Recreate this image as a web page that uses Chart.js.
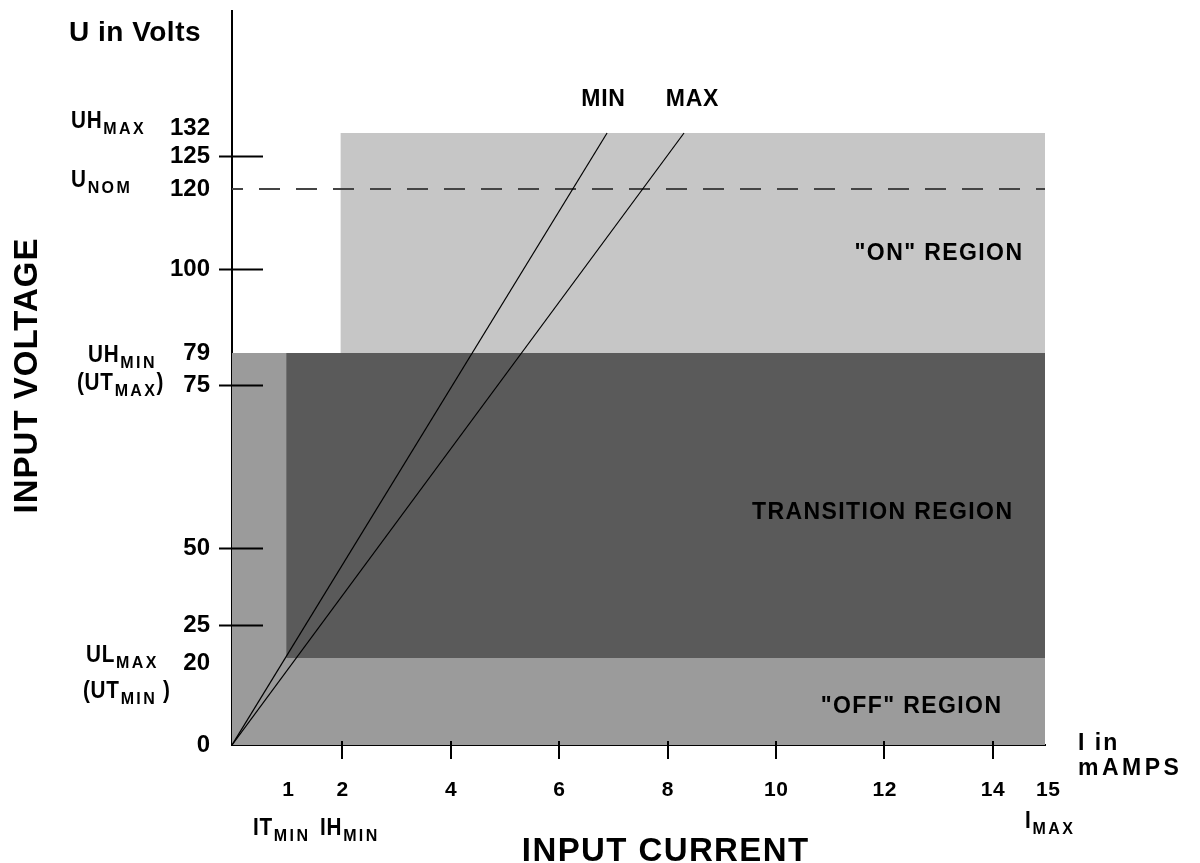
<!DOCTYPE html>
<html>
<head>
<meta charset="utf-8">
<script src="https://cdn.jsdelivr.net/npm/chart.js@4.4.1/dist/chart.umd.min.js"></script>
<style>
  html, body { margin: 0; padding: 0; background: #fff; }
  #wrap { width: 1200px; height: 863px; }
</style>
</head>
<body>
<div id="wrap"><canvas id="chart" width="1200" height="863"></canvas></div>
<script>
// values
const currentLabels = [1, 2, 4, 6, 8, 10, 12, 14, 15];      // mA
const currentMarks = [2, 4, 6, 8, 10, 12, 14];
const voltageLabels = [0, 20, 25, 50, 75, 79, 100, 120, 125, 132]; // V
const voltageMarks = [25, 50, 75, 100, 125];

const regionNames = ['"OFF" REGION', 'TRANSITION REGION', '"ON" REGION'];
const regionFrom = [0, 1, 2];
const regionTo = [15, 15, 15];
const regionLow = [0, 20, 79];
const regionHigh = [79, 79, 132];

const uNom = 120;
const minLine = [[0, 0], [6.92, 132]];
const maxLine = [[0, 0], [8.34, 132]];

const FONT = '"Liberation Sans", Arial, Helvetica, sans-serif';

// the voltage axis of the original sketch is not evenly spaced,
// so map values piecewise onto the axis length
class WarpScale extends Chart.LinearScale {
  static id = 'warp';
  static defaults = { ticks: { callback: v => v } };

  _frac(value) {
    const vals = this.options.warp.values, at = this.options.warp.at;
    if (value <= vals[0]) return at[0];
    for (let i = 1; i < vals.length; i++) {
      if (value <= vals[i]) {
        const t = (value - vals[i - 1]) / (vals[i] - vals[i - 1]);
        return at[i - 1] + t * (at[i] - at[i - 1]);
      }
    }
    return at[at.length - 1];
  }
  getPixelForValue(value) {
    return this.getPixelForDecimal(this._frac(value));
  }
  getValueForPixel(pixel) {
    const d = this.getDecimalForPixel(pixel);
    const vals = this.options.warp.values, at = this.options.warp.at;
    for (let i = 1; i < at.length; i++) {
      if (d <= at[i]) {
        const t = (d - at[i - 1]) / (at[i] - at[i - 1]);
        return vals[i - 1] + t * (vals[i] - vals[i - 1]);
      }
    }
    return vals[vals.length - 1];
  }
}
Chart.register(WarpScale);

const regionColors = ['#9b9b9b', '#5a5a5a', '#c6c6c6'];

const datasets = [];
datasets.push({
  data: minLine.map(p => ({ x: p[0], y: p[1] })),
  borderColor: '#000', borderWidth: 1.2, pointRadius: 0, fill: false, order: 0
});
datasets.push({
  data: maxLine.map(p => ({ x: p[0], y: p[1] })),
  borderColor: '#000', borderWidth: 1.2, pointRadius: 0, fill: false, order: 1
});
datasets.push({
  data: [{ x: 0, y: uNom }, { x: 15, y: uNom }],
  borderColor: '#444', borderWidth: 2, borderDash: [21, 16], borderDashOffset: 10,
  pointRadius: 0, fill: false, order: 2
});
regionNames.forEach((name, i) => {
  datasets.push({
    label: name,
    data: [{ x: regionFrom[i], y: regionHigh[i] }, { x: regionTo[i], y: regionHigh[i] }],
    borderWidth: 0, borderColor: 'rgba(0,0,0,0)', pointRadius: 0,
    backgroundColor: regionColors[i],
    fill: { value: regionLow[i] },
    order: 10 - i
  });
});

// bold text, k squeezes it sideways (the original lettering is a narrow face)
function text(ctx, s, x, y, size, align, ls, k) {
  ls = ls || 0;
  k = k || 1;
  ctx.font = 'bold ' + size + 'px ' + FONT;
  ctx.letterSpacing = ls + 'px';
  ctx.textAlign = 'left';
  const w = (ctx.measureText(s).width - ls) * k;
  let sx = x;
  if (align === 'center') sx = x - w / 2;
  else if (align === 'right') sx = x - w;
  ctx.save();
  ctx.translate(sx, y);
  ctx.scale(k, 1);
  ctx.fillText(s, 0, 0);
  ctx.restore();
  return w + ls * k;
}

// main text with subscript parts, left aligned
function subLabel(ctx, parts, x, y) {
  let cx = x;
  ctx.textBaseline = 'alphabetic';
  parts.forEach(p => {
    if (p.sub) cx += text(ctx, p.t, cx + 1, y + 6, 16, 'left', 2.4);
    else cx += text(ctx, p.t, cx, y, 23, 'left', 0.8, 0.9);
  });
}

const annotations = {
  id: 'annotations',
  afterDraw(chart) {
    const ctx = chart.ctx;
    const xs = chart.scales.x, ys = chart.scales.y;
    const x0 = xs.getPixelForValue(0), y0 = ys.getPixelForValue(0);
    ctx.save();
    ctx.fillStyle = '#000';
    ctx.strokeStyle = '#000';
    ctx.lineWidth = 2;

    // tick marks
    voltageMarks.forEach(v => {
      const y = Math.round(ys.getPixelForValue(v)) + 0.5;
      ctx.beginPath(); ctx.moveTo(x0 - 13, y); ctx.lineTo(x0 + 31, y); ctx.stroke();
    });
    currentMarks.forEach(v => {
      const x = Math.round(xs.getPixelForValue(v)) + 2;
      ctx.beginPath(); ctx.moveTo(x, y0 - 4); ctx.lineTo(x, y0 + 14); ctx.stroke();
    });

    // tick labels
    ctx.textBaseline = 'middle';
    voltageLabels.forEach(v => {
      let y = ys.getPixelForValue(v);
      if (v === 132) y -= 5;
      if (v === 20) y += 5;
      text(ctx, String(v), 210, y, 24, 'right', 0);
    });
    currentLabels.forEach(v => {
      const dx = v === 15 ? 3 : 2;
      text(ctx, String(v), xs.getPixelForValue(v) + dx, 790, 21, 'center', 0.5);
    });

    // voltage names with subscripts
    subLabel(ctx, [{ t: 'UH' }, { t: 'MAX', sub: true }], 71, ys.getPixelForValue(132) - 5);
    subLabel(ctx, [{ t: 'U' }, { t: 'NOM', sub: true }], 71, ys.getPixelForValue(120) - 2);
    subLabel(ctx, [{ t: 'UH' }, { t: 'MIN', sub: true }], 88, ys.getPixelForValue(79) + 9);
    subLabel(ctx, [{ t: '(UT' }, { t: 'MAX', sub: true }, { t: ')' }], 77, ys.getPixelForValue(75) + 5);
    subLabel(ctx, [{ t: 'UL' }, { t: 'MAX', sub: true }], 86, ys.getPixelForValue(20) + 4);
    subLabel(ctx, [{ t: '(UT' }, { t: 'MIN ', sub: true }, { t: ')' }], 83, ys.getPixelForValue(20) + 40);

    // current names with subscripts
    subLabel(ctx, [{ t: 'IT' }, { t: 'MIN', sub: true }], 253, 835);
    subLabel(ctx, [{ t: 'IH' }, { t: 'MIN', sub: true }], 320, 835);
    subLabel(ctx, [{ t: 'I' }, { t: 'MAX', sub: true }], 1025, 828);

    // axis units and titles
    ctx.textBaseline = 'alphabetic';
    text(ctx, 'U in Volts', 69, 41, 28, 'left', 0.5);
    text(ctx, 'I in', 1078, 750, 23, 'left', 2);
    text(ctx, 'mAMPS', 1078, 775, 23, 'left', 3.5);
    text(ctx, 'INPUT CURRENT', 665, 861, 33, 'center', 1.4);
    ctx.save();
    ctx.translate(28, 376);
    ctx.rotate(-Math.PI / 2);
    ctx.textBaseline = 'middle';
    text(ctx, 'INPUT VOLTAGE', 0, 0, 33, 'center', 1);
    ctx.restore();

    // line names
    const topY = ys.getPixelForValue(132);
    text(ctx, 'MIN', xs.getPixelForValue(minLine[1][0]) - 4, topY - 27, 23, 'center', 0.8);
    text(ctx, 'MAX', xs.getPixelForValue(maxLine[1][0]) + 8, topY - 27, 23, 'center', 0.8);

    // region names
    const xr = xs.getPixelForValue(15);
    text(ctx, regionNames[2], xr - 23, ys.getPixelForValue(100) - 9, 23, 'right', 1.4);
    text(ctx, regionNames[1], xr - 33, ys.getPixelForValue(50) - 29, 23, 'right', 1.4);
    text(ctx, regionNames[0], xr - 44, y0 - 32, 23, 'right', 1.4);

    ctx.restore();
  }
};

new Chart(document.getElementById('chart'), {
  type: 'line',
  data: { datasets },
  options: {
    responsive: false,
    animation: false,
    devicePixelRatio: 1,
    layout: { padding: { left: 232, right: 155, top: 11, bottom: 118 } },
    plugins: { legend: { display: false }, tooltip: { enabled: false } },
    scales: {
      x: {
        type: 'linear', min: 0, max: 15, z: 1,
        grid: { display: false, drawTicks: false },
        border: { display: true, color: '#000', width: 2 },
        ticks: { display: false }
      },
      y: {
        type: 'warp', min: 0, max: 158, z: 1,
        warp: {
          values: [0, 20, 25, 50, 75, 79, 100, 120, 125, 132, 158],
          at: [0, 0.1185, 0.1635, 0.2684, 0.4905, 0.5341, 0.6485, 0.7575, 0.8025, 0.8338, 1]
        },
        grid: { display: false, drawTicks: false },
        border: { display: true, color: '#000', width: 2 },
        ticks: { display: false }
      }
    }
  },
  plugins: [annotations]
});
</script>
</body>
</html>
